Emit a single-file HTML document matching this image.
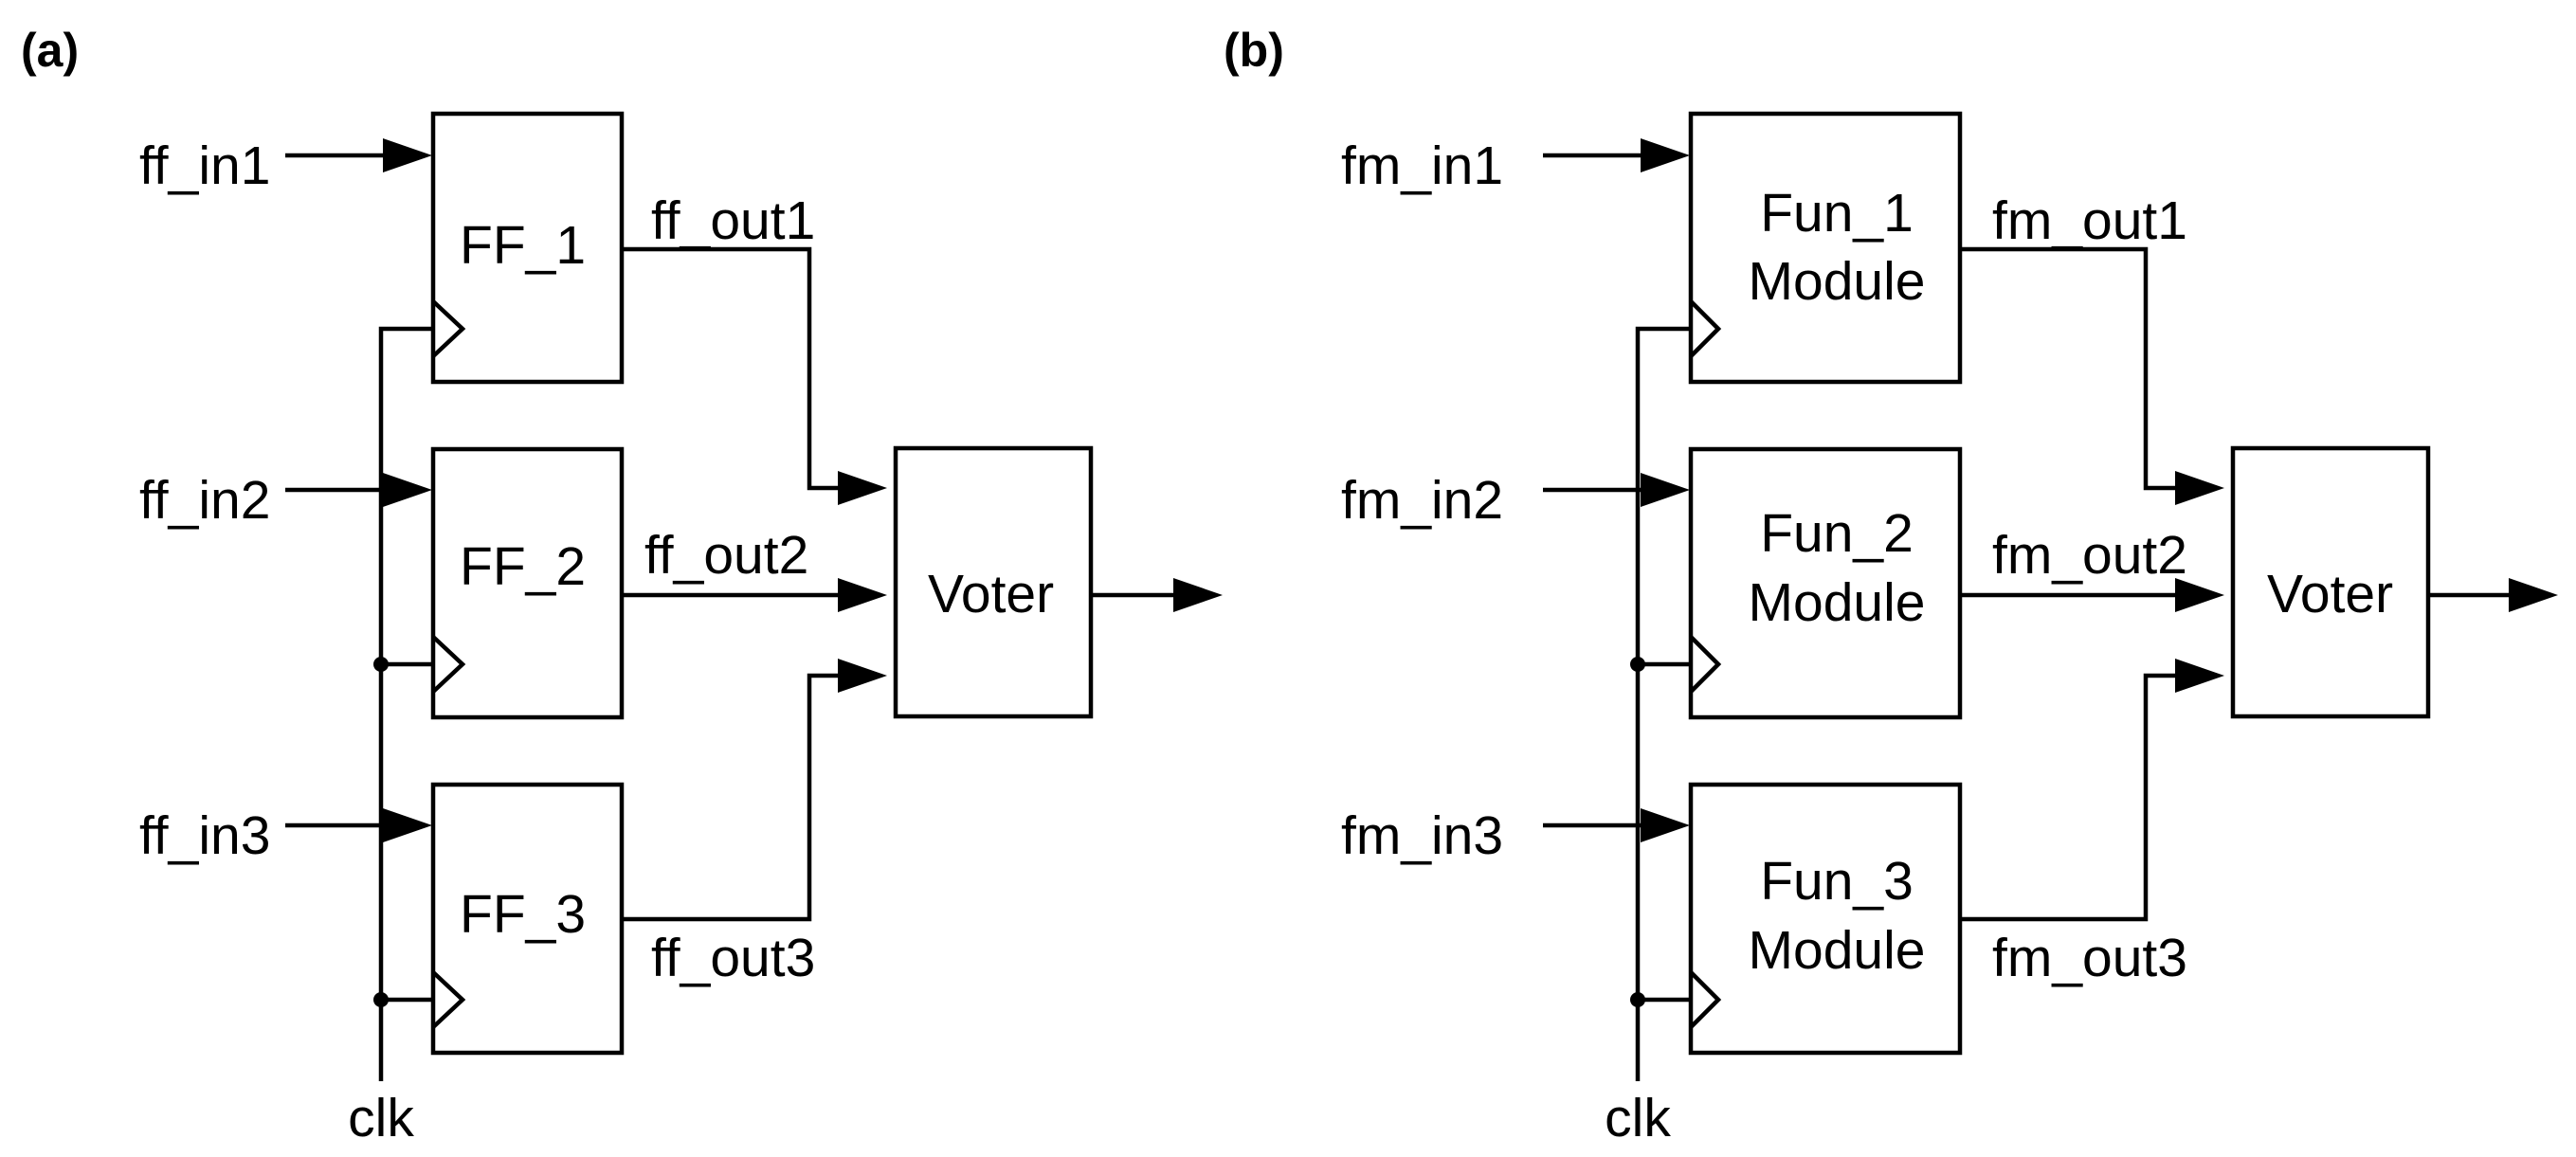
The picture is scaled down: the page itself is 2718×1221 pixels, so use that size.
<!DOCTYPE html>
<html><head><meta charset="utf-8"><style>
html,body{margin:0;padding:0;background:#fff;}
svg{display:block;}
text{font-family:"Liberation Sans",Arial,sans-serif;fill:#000;}
</style></head><body>
<svg width="2718" height="1221" viewBox="0 0 2718 1221" xmlns="http://www.w3.org/2000/svg">
<defs>
<g id="ah"><polygon points="0,-18 52,0 0,18" fill="#000"/></g>
</defs>
<g stroke="#000" stroke-width="4.5" fill="none">
<rect x="457" y="120" width="199" height="283"/>
<rect x="457" y="474" width="199" height="283"/>
<rect x="457" y="828" width="199" height="283"/>
<rect x="945" y="473" width="206" height="283"/>
<polyline points="457,318 488,347 457,376"/>
<polyline points="457,672 488,701 457,730"/>
<polyline points="457,1026 488,1055 457,1084"/>
<line x1="301" y1="164" x2="410" y2="164"/>
<line x1="301" y1="517" x2="410" y2="517"/>
<line x1="301" y1="871" x2="410" y2="871"/>
<polyline points="457,347 402,347 402,1141"/>
<line x1="402" y1="701" x2="457" y2="701"/>
<line x1="402" y1="1055" x2="457" y2="1055"/>
<polyline points="656,263 854,263 854,515 890,515"/>
<line x1="656" y1="628" x2="890" y2="628"/>
<polyline points="656,970 854,970 854,713 890,713"/>
<line x1="1151" y1="628" x2="1240" y2="628"/>

<rect x="1784" y="120" width="284" height="283"/>
<rect x="1784" y="474" width="284" height="283"/>
<rect x="1784" y="828" width="284" height="283"/>
<rect x="2356" y="473" width="206" height="283"/>
<polyline points="1784,318 1813,347 1784,376"/>
<polyline points="1784,672 1813,701 1784,730"/>
<polyline points="1784,1026 1813,1055 1784,1084"/>
<line x1="1628" y1="164" x2="1735" y2="164"/>
<line x1="1628" y1="517" x2="1735" y2="517"/>
<line x1="1628" y1="871" x2="1735" y2="871"/>
<polyline points="1784,347 1728,347 1728,1141"/>
<line x1="1728" y1="701" x2="1784" y2="701"/>
<line x1="1728" y1="1055" x2="1784" y2="1055"/>
<polyline points="2068,263 2264,263 2264,515 2300,515"/>
<line x1="2068" y1="628" x2="2300" y2="628"/>
<polyline points="2068,970 2264,970 2264,713 2300,713"/>
<line x1="2562" y1="628" x2="2650" y2="628"/>
</g>
<use href="#ah" x="404" y="164"/>
<use href="#ah" x="404" y="517"/>
<use href="#ah" x="404" y="871"/>
<use href="#ah" x="884" y="515"/>
<use href="#ah" x="884" y="628"/>
<use href="#ah" x="884" y="713"/>
<use href="#ah" x="1238" y="628"/>
<use href="#ah" x="1731" y="164"/>
<use href="#ah" x="1731" y="517"/>
<use href="#ah" x="1731" y="871"/>
<use href="#ah" x="2295" y="515"/>
<use href="#ah" x="2295" y="628"/>
<use href="#ah" x="2295" y="713"/>
<use href="#ah" x="2647" y="628"/>
<circle cx="402" cy="701" r="8" fill="#000"/>
<circle cx="402" cy="1055" r="8" fill="#000"/>
<circle cx="1728" cy="701" r="8" fill="#000"/>
<circle cx="1728" cy="1055" r="8" fill="#000"/>

<text x="22" y="70" font-size="50" font-weight="bold">(a)</text>
<text x="1291" y="70" font-size="50" font-weight="bold">(b)</text>

<g font-size="57">
<text x="147" y="194">ff_in1</text>
<text x="147" y="547">ff_in2</text>
<text x="147" y="901">ff_in3</text>
<text x="485" y="278">FF_1</text>
<text x="485" y="617">FF_2</text>
<text x="485" y="984">FF_3</text>
<text x="687" y="252">ff_out1</text>
<text x="680" y="605">ff_out2</text>
<text x="687" y="1030">ff_out3</text>
<text x="979" y="646">Voter</text>
<text x="402" y="1199" text-anchor="middle">clk</text>

<text x="1415" y="194">fm_in1</text>
<text x="1415" y="547">fm_in2</text>
<text x="1415" y="901">fm_in3</text>
<text x="1938" y="244" text-anchor="middle">Fun_1</text>
<text x="1938" y="316" text-anchor="middle">Module</text>
<text x="1938" y="582" text-anchor="middle">Fun_2</text>
<text x="1938" y="655" text-anchor="middle">Module</text>
<text x="1938" y="949" text-anchor="middle">Fun_3</text>
<text x="1938" y="1022" text-anchor="middle">Module</text>
<text x="2102" y="252">fm_out1</text>
<text x="2102" y="605">fm_out2</text>
<text x="2102" y="1030">fm_out3</text>
<text x="2392" y="646">Voter</text>
<text x="1728" y="1199" text-anchor="middle">clk</text>
</g>
</svg>
</body></html>
